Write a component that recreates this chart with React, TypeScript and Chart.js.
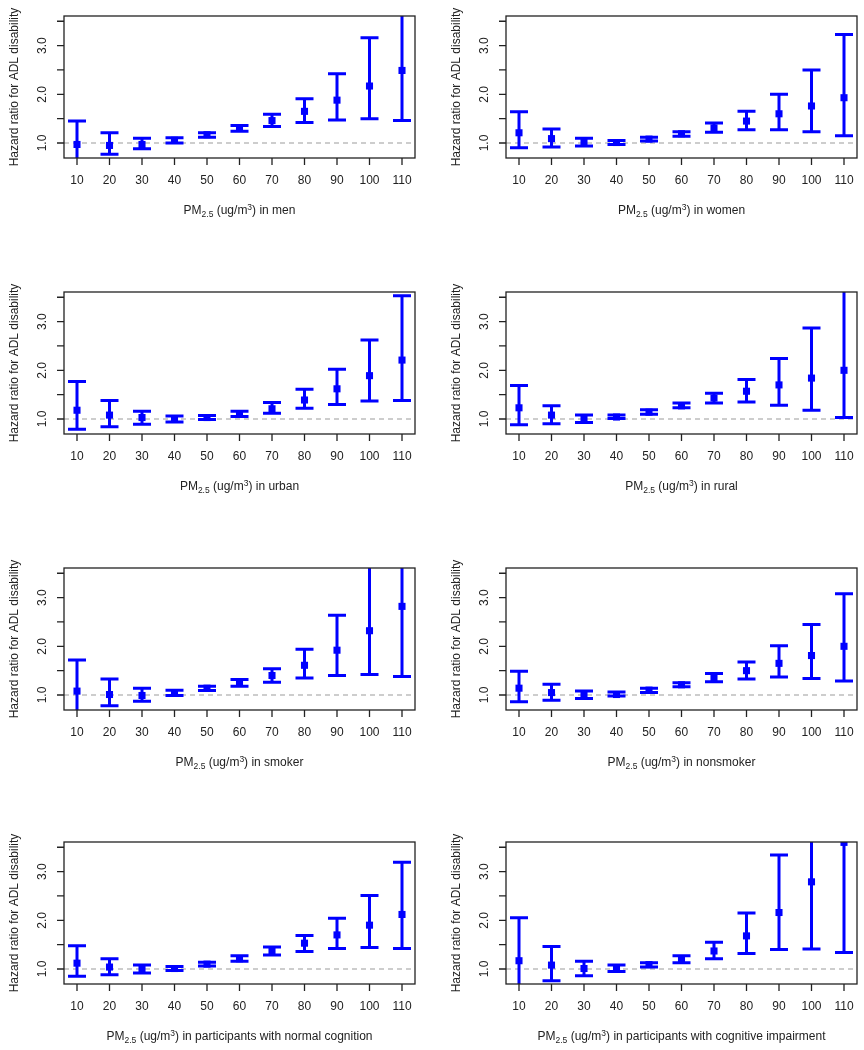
import React, { useEffect, useRef } from "react";
import { Chart, registerables } from "chart.js";

Chart.register(...registerables);

// PM2.5 concentration categories (x axis)
const XS = [10, 20, 30, 40, 50, 60, 70, 80, 90, 100, 110];
const X_MIN = 6;
const X_MAX = 114;
const Y_MIN = 0.692;
const Y_MAX = 3.608;
const Y_TICKS = [1.0, 1.5, 2.0, 2.5, 3.0, 3.5];
const Y_LABELS = [1.0, 2.0, 3.0];
const REF_LINE = 1.0;
const Y_TITLE = "Hazard ratio for ADL disability";

// Hazard ratios and 95% CIs per subgroup
const MEN_HR = [0.97, 0.95, 0.97, 1.055, 1.17, 1.3, 1.46, 1.65, 1.88, 2.17, 2.49];
const MEN_LO = [0.6, 0.77, 0.88, 1.0, 1.12, 1.24, 1.34, 1.42, 1.47, 1.5, 1.46];
const MEN_HI = [1.45, 1.21, 1.1, 1.11, 1.21, 1.36, 1.59, 1.91, 2.42, 3.16, 4.2];

const WOMEN_HR = [1.21, 1.09, 1.01, 1.01, 1.08, 1.19, 1.31, 1.45, 1.6, 1.76, 1.93];
const WOMEN_LO = [0.9, 0.92, 0.94, 0.97, 1.04, 1.14, 1.22, 1.27, 1.27, 1.23, 1.15];
const WOMEN_HI = [1.64, 1.29, 1.1, 1.05, 1.12, 1.23, 1.41, 1.65, 2.0, 2.5, 3.23];

const URBAN_HR = [1.18, 1.08, 1.03, 0.99, 1.03, 1.1, 1.21, 1.39, 1.62, 1.89, 2.21];
const URBAN_LO = [0.79, 0.84, 0.89, 0.94, 0.99, 1.05, 1.12, 1.22, 1.3, 1.37, 1.38];
const URBAN_HI = [1.77, 1.38, 1.16, 1.06, 1.07, 1.16, 1.34, 1.61, 2.02, 2.62, 3.53];

const RURAL_HR = [1.23, 1.08, 1.0, 1.04, 1.14, 1.27, 1.43, 1.57, 1.7, 1.84, 2.0];
const RURAL_LO = [0.88, 0.9, 0.93, 1.01, 1.1, 1.23, 1.33, 1.35, 1.28, 1.18, 1.03];
const RURAL_HI = [1.69, 1.27, 1.08, 1.08, 1.19, 1.33, 1.53, 1.81, 2.24, 2.87, 4.0];

const SMOKER_HR = [1.08, 1.01, 0.99, 1.04, 1.14, 1.25, 1.4, 1.61, 1.92, 2.32, 2.82];
const SMOKER_LO = [0.6, 0.78, 0.87, 0.99, 1.09, 1.18, 1.26, 1.35, 1.4, 1.42, 1.38];
const SMOKER_HI = [1.72, 1.33, 1.14, 1.1, 1.18, 1.32, 1.54, 1.94, 2.64, 3.8, 5.0];

const NONSMOKER_HR = [1.14, 1.05, 1.0, 1.01, 1.1, 1.21, 1.35, 1.5, 1.65, 1.81, 2.0];
const NONSMOKER_LO = [0.86, 0.89, 0.93, 0.98, 1.05, 1.17, 1.27, 1.33, 1.37, 1.34, 1.29];
const NONSMOKER_HI = [1.49, 1.22, 1.08, 1.06, 1.14, 1.25, 1.44, 1.68, 2.01, 2.45, 3.08];

const NORMCOG_HR = [1.12, 1.04, 0.99, 1.01, 1.1, 1.21, 1.36, 1.53, 1.7, 1.9, 2.12];
const NORMCOG_LO = [0.85, 0.88, 0.92, 0.97, 1.06, 1.16, 1.29, 1.36, 1.42, 1.44, 1.42];
const NORMCOG_HI = [1.48, 1.21, 1.08, 1.05, 1.14, 1.27, 1.45, 1.69, 2.04, 2.51, 3.19];

const IMPCOG_HR = [1.17, 1.08, 1.01, 1.01, 1.09, 1.2, 1.37, 1.68, 2.16, 2.79, 3.6];
const IMPCOG_LO = [0.6, 0.76, 0.86, 0.95, 1.04, 1.13, 1.21, 1.32, 1.4, 1.41, 1.34];
const IMPCOG_HI = [2.05, 1.46, 1.16, 1.08, 1.13, 1.27, 1.55, 2.15, 3.34, 4.5, 5.5];

const SUFFIXES = [
  "in men",
  "in women",
  "in urban",
  "in rural",
  "in smoker",
  "in nonsmoker",
  "in participants with normal cognition",
  "in participants with cognitive impairment",
];

const PANELS = [
  { hr: MEN_HR, lo: MEN_LO, hi: MEN_HI },
  { hr: WOMEN_HR, lo: WOMEN_LO, hi: WOMEN_HI },
  { hr: URBAN_HR, lo: URBAN_LO, hi: URBAN_HI },
  { hr: RURAL_HR, lo: RURAL_LO, hi: RURAL_HI },
  { hr: SMOKER_HR, lo: SMOKER_LO, hi: SMOKER_HI },
  { hr: NONSMOKER_HR, lo: NONSMOKER_LO, hi: NONSMOKER_HI },
  { hr: NORMCOG_HR, lo: NORMCOG_LO, hi: NORMCOG_HI },
  { hr: IMPCOG_HR, lo: IMPCOG_LO, hi: IMPCOG_HI },
].map((p, i) => ({ ...p, suffix: SUFFIXES[i] }));

const FONT = '"Liberation Sans", Arial, Helvetica, sans-serif';
const TEXT = "#222222";
const BLUE = "#0000ff";
const CANVAS_W = 432;
const CANVAS_H = 276;
const ROW_TOPS = [0, 276, 552, 826];

function Panel({ index }: { index: number }) {
  const ref = useRef<HTMLCanvasElement | null>(null);
  const p = PANELS[index];
  const col = index % 2;
  const row = Math.floor(index / 2);

  useEffect(() => {
    if (!ref.current) return;
    const plugin = {
      id: "errbars" + index,
      beforeDatasetsDraw(chart: any) {
        const { ctx, chartArea: a } = chart;
        const xs = chart.scales.x;
        const ys = chart.scales.y;
        ctx.save();
        ctx.beginPath();
        ctx.rect(a.left, a.top, a.right - a.left, a.bottom - a.top);
        ctx.clip();
        // reference line
        const yr = ys.getPixelForValue(REF_LINE);
        ctx.strokeStyle = "#bdbdbd";
        ctx.lineWidth = 1.4;
        ctx.setLineDash([5, 4]);
        ctx.beginPath();
        ctx.moveTo(a.left, yr);
        ctx.lineTo(a.right, yr);
        ctx.stroke();
        ctx.setLineDash([]);
        // error bars
        ctx.strokeStyle = BLUE;
        ctx.lineWidth = 3;
        XS.forEach((xv, i) => {
          const px = xs.getPixelForValue(xv);
          const pl = ys.getPixelForValue(p.lo[i]);
          const ph = ys.getPixelForValue(p.hi[i]);
          ctx.beginPath();
          ctx.moveTo(px, pl);
          ctx.lineTo(px, ph);
          ctx.moveTo(px - 9, pl);
          ctx.lineTo(px + 9, pl);
          ctx.moveTo(px - 9, ph);
          ctx.lineTo(px + 9, ph);
          ctx.stroke();
        });
        ctx.restore();
      },
      afterDraw(chart: any) {
        const { ctx, chartArea: a } = chart;
        const xs = chart.scales.x;
        const ys = chart.scales.y;
        ctx.save();
        // box
        ctx.strokeStyle = TEXT;
        ctx.lineWidth = 1.3;
        ctx.strokeRect(a.left, a.top, a.right - a.left, a.bottom - a.top);
        // x ticks
        ctx.beginPath();
        XS.forEach((xv) => {
          const px = xs.getPixelForValue(xv);
          ctx.moveTo(px, a.bottom);
          ctx.lineTo(px, a.bottom + 7);
        });
        Y_TICKS.forEach((yv) => {
          const py = ys.getPixelForValue(yv);
          ctx.moveTo(a.left, py);
          ctx.lineTo(a.left - 7, py);
        });
        ctx.stroke();
        // x tick labels
        ctx.fillStyle = TEXT;
        ctx.font = `12px ${FONT}`;
        ctx.textAlign = "center";
        ctx.textBaseline = "middle";
        XS.forEach((xv) => {
          ctx.fillText(String(xv), xs.getPixelForValue(xv), a.bottom + 23);
        });
        // y tick labels (rotated)
        Y_LABELS.forEach((yv) => {
          ctx.save();
          ctx.translate(a.left - 21, ys.getPixelForValue(yv));
          ctx.rotate(-Math.PI / 2);
          ctx.fillText(yv.toFixed(1), 0, 0);
          ctx.restore();
        });
        // y title
        ctx.save();
        ctx.translate(a.left - 49, (a.top + a.bottom) / 2);
        ctx.rotate(-Math.PI / 2);
        ctx.fillText(Y_TITLE, 0, 0);
        ctx.restore();
        // x title with sub/superscripts
        const segs = [
          { t: "PM", s: 12, dy: 0 },
          { t: "2.5", s: 8.5, dy: 3 },
          { t: " (ug/m", s: 12, dy: 0 },
          { t: "3", s: 8.5, dy: -4.5 },
          { t: ") " + p.suffix, s: 12, dy: 0 },
        ];
        ctx.textAlign = "left";
        ctx.textBaseline = "alphabetic";
        let total = 0;
        const widths = segs.map((sg) => {
          ctx.font = `${sg.s}px ${FONT}`;
          const w = ctx.measureText(sg.t).width;
          total += w;
          return w;
        });
        let cx = (a.left + a.right) / 2 - total / 2;
        const base = a.bottom + 56;
        segs.forEach((sg, i) => {
          ctx.font = `${sg.s}px ${FONT}`;
          ctx.fillText(sg.t, cx, base + sg.dy);
          cx += widths[i];
        });
        ctx.restore();
      },
    };

    const chart = new Chart(ref.current, {
      type: "scatter",
      data: {
        datasets: [
          {
            data: XS.map((x, i) => ({ x, y: p.hr[i] })),
            pointStyle: "rect",
            pointRadius: 5,
            pointHoverRadius: 5,
            backgroundColor: BLUE,
            borderColor: BLUE,
            borderWidth: 0,
            showLine: false,
          },
        ],
      },
      options: {
        animation: false,
        responsive: false,
        maintainAspectRatio: false,
        events: [],
        layout: {
          padding: {
            left: 64 + col * 10,
            right: 17 - col * 10,
            top: 16,
            bottom: CANVAS_H - 16 - 142,
          },
        },
        plugins: {
          legend: { display: false },
          tooltip: { enabled: false },
        },
        scales: {
          x: { type: "linear", min: X_MIN, max: X_MAX, display: false },
          y: { type: "linear", min: Y_MIN, max: Y_MAX, display: false },
        },
      },
      plugins: [plugin],
    });
    return () => chart.destroy();
  }, [index]);

  return (
    <canvas
      ref={ref}
      width={CANVAS_W}
      height={CANVAS_H}
      style={{
        position: "absolute",
        left: col * CANVAS_W,
        top: ROW_TOPS[row],
        width: CANVAS_W,
        height: CANVAS_H,
      }}
    />
  );
}

export default function App() {
  return (
    <div
      style={{
        position: "absolute",
        left: 0,
        top: 0,
        width: 864,
        height: 1050,
        overflow: "hidden",
        background: "#ffffff",
      }}
    >
      {PANELS.map((_, i) => (
        <Panel key={i} index={i} />
      ))}
    </div>
  );
}
